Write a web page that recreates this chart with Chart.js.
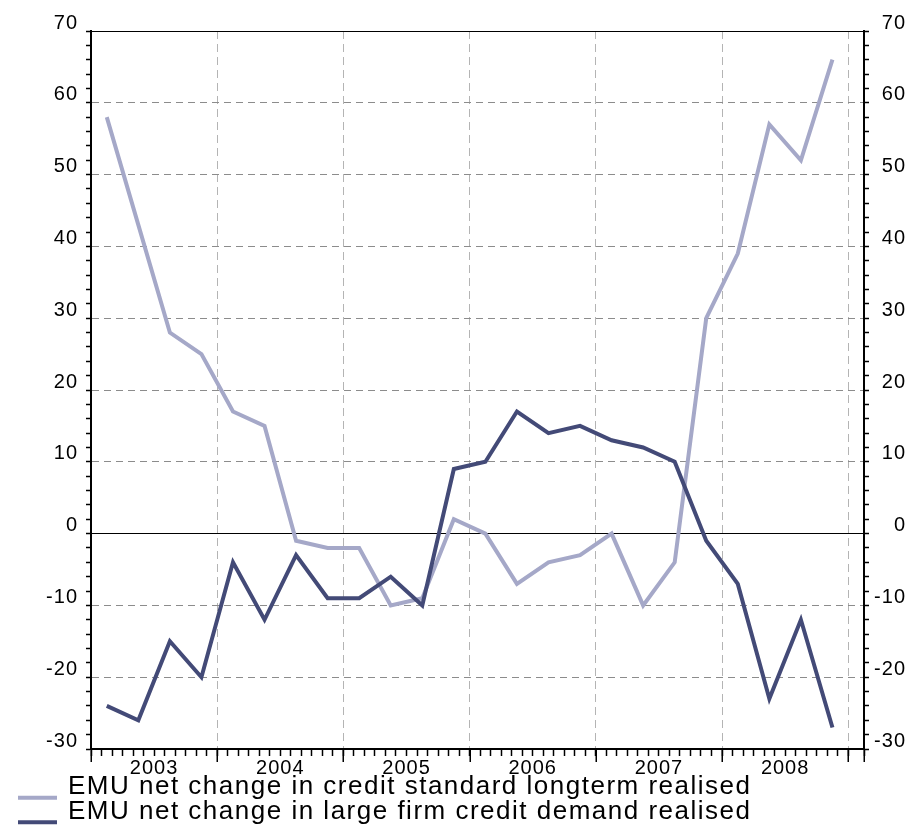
<!DOCTYPE html>
<html>
<head>
<meta charset="utf-8">
<title>EMU credit standards and demand</title>
<script src="https://cdn.jsdelivr.net/npm/chart.js@4.4.1/dist/chart.umd.min.js"></script>
<style>
    html, body { margin: 0; padding: 0; background: #fff; }
    #wrap { width: 915px; height: 826px; }
</style>
</head>
<body>
<div id="wrap"><canvas id="creditChart"></canvas></div>
<script>
// --- data ---
const quarters = [
    '2003Q1', '2003Q2', '2003Q3', '2003Q4',
    '2004Q1', '2004Q2', '2004Q3', '2004Q4',
    '2005Q1', '2005Q2', '2005Q3', '2005Q4',
    '2006Q1', '2006Q2', '2006Q3', '2006Q4',
    '2007Q1', '2007Q2', '2007Q3', '2007Q4',
    '2008Q1', '2008Q2', '2008Q3', '2008Q4'
];
const years = ['2003', '2004', '2005', '2006', '2007', '2008'];
const creditStandard = [58, 43, 28, 25, 17, 15, -1, -2, -2, -10, -9, 2, 0, -7, -4, -3, 0, -10, -4, 30, 39, 57, 52, 66];
const firmDemand = [-24, -26, -15, -20, -4, -12, -3, -9, -9, -6, -10, 9, 10, 17, 14, 15, 13, 12, 10, -1, -7, -23, -12, -27];
const yMin = -30;
const yMax = 70;

const lightColor = '#a5a8c8';
const darkColor = '#434a77';
const fontFamily = '"Liberation Sans", Arial, Helvetica, sans-serif';

// x axis counts months from Jan 2003; each quarter sits mid-quarter
const monthOf = q => (Number(q.slice(0, 4)) - Number(years[0])) * 12 + (Number(q.slice(5)) - 1) * 3 + 1.5;
const toPoints = values => quarters.map((q, i) => ({ x: monthOf(q), y: values[i] }));

Chart.defaults.font.family = fontFamily;
Chart.defaults.color = '#000';

// year ticks are longer than the monthly ones, plus the legend
const axisExtras = {
    id: 'axisExtras',
    beforeDraw(chart) {
        chart.ctx.letterSpacing = '1px';
    },
    afterDraw(chart) {
        const { ctx, chartArea, scales: { x } } = chart;
        ctx.save();
        ctx.strokeStyle = '#000';
        ctx.lineWidth = 1.5;
        ctx.beginPath();
        const marks = years.map((y, i) => i * 12).concat([years.length * 12, x.max]);
        marks.forEach(v => {
            const px = Math.round(x.getPixelForValue(v)) + 0.25;
            ctx.moveTo(px, chartArea.bottom);
            ctx.lineTo(px, chartArea.bottom + 13);
        });
        ctx.stroke();

        // legend, bottom left
        ctx.letterSpacing = '1.5px';
        ctx.font = '26px ' + fontFamily;
        ctx.textBaseline = 'middle';
        ctx.textAlign = 'left';
        ctx.fillStyle = '#000';
        chart.data.datasets.forEach((ds, i) => {
            const ty = chartArea.bottom + 38 + i * 24.6;
            ctx.strokeStyle = ds.borderColor;
            ctx.lineWidth = 4;
            ctx.beginPath();
            ctx.moveTo(18, ty + 10.7);
            ctx.lineTo(57, ty + 10.7);
            ctx.stroke();
            ctx.fillText(ds.label, 68, ty);
        });
        ctx.restore();
    }
};

const yTickLabel = v => (v % 10 === 0 ? String(v) : '');

const yGridColor = c => {
    const v = c.tick.value;
    if (v === 0 || v === yMax) return '#000';
    if (v === yMin || v % 10 !== 0) return 'rgba(0,0,0,0)';
    return '#8c8c8c';
};

const ctx = document.getElementById('creditChart');
new Chart(ctx, {
    type: 'line',
    data: {
        datasets: [{
            label: 'EMU net change in credit standard longterm realised',
            data: toPoints(creditStandard),
            borderColor: lightColor,
            backgroundColor: lightColor,
            borderWidth: 4,
            pointRadius: 0,
            tension: 0,
            order: 2
        }, {
            label: 'EMU net change in large firm credit demand realised',
            data: toPoints(firmDemand),
            borderColor: darkColor,
            backgroundColor: darkColor,
            borderWidth: 4,
            pointRadius: 0,
            tension: 0,
            order: 1
        }]
    },
    options: {
        responsive: true,
        maintainAspectRatio: false,
        animation: false,
        events: [],
        layout: { padding: { left: 17, right: 9, top: 31, bottom: 51 } },
        plugins: {
            legend: { display: false },
            tooltip: { enabled: false }
        },
        scales: {
            x: {
                type: 'linear',
                min: 0,
                max: 73.5,
                border: { color: '#000', width: 2, dash: [8, 5] },
                grid: {
                    color: c => {
                        const v = c.tick.value;
                        return (v > 0 && v % 12 === 0) ? '#b4b4b4' : 'rgba(0,0,0,0)';
                    },
                    lineWidth: 1,
                    tickColor: '#000',
                    tickLength: 7,
                    tickWidth: 1.5
                },
                ticks: {
                    stepSize: 1,
                    autoSkip: false,
                    maxRotation: 0,
                    padding: 0,
                    z: 1,
                    font: { size: 20 },
                    callback: v => (v % 12 === 6 ? years[(v - 6) / 12] : '')
                },
                afterFit: s => { s.height = 26; }
            },
            y: {
                position: 'left',
                min: yMin,
                max: yMax,
                border: {
                    color: '#000',
                    width: 2,
                    dash: c => ((c.tick.value === 0 || c.tick.value === yMax) ? [] : [7, 5])
                },
                grid: {
                    color: yGridColor,
                    lineWidth: 1,
                    tickColor: '#000',
                    tickLength: 5,
                    tickWidth: 1.5
                },
                ticks: {
                    stepSize: 2,
                    maxTicksLimit: 200,
                    autoSkip: false,
                    padding: 8,
                    labelOffset: -8,
                    z: 1,
                    font: { size: 20 },
                    callback: yTickLabel
                },
                afterFit: s => { s.width = 74; }
            },
            y2: {
                position: 'right',
                min: yMin,
                max: yMax,
                border: { color: '#000', width: 2 },
                grid: {
                    drawOnChartArea: false,
                    tickColor: '#000',
                    tickLength: 5,
                    tickWidth: 1.5
                },
                ticks: {
                    stepSize: 2,
                    maxTicksLimit: 200,
                    autoSkip: false,
                    padding: 8,
                    labelOffset: -8,
                    crossAlign: 'far',
                    z: 1,
                    font: { size: 20 },
                    callback: yTickLabel
                },
                afterFit: s => { s.width = 42; }
            }
        }
    },
    plugins: [axisExtras]
});
</script>
</body>
</html>
